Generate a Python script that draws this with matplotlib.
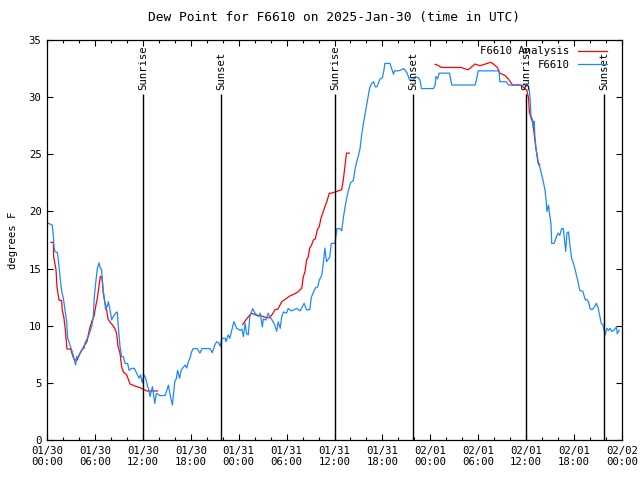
import numpy as np
import matplotlib
matplotlib.use("Agg")
import matplotlib.pyplot as plt
from matplotlib.ticker import MultipleLocator

# hours since 2025-01-30 00:00 UTC, dew point in F
obs_hours = [0.17, 0.66, 0.79, 0.88, 1.0, 1.29, 1.42, 1.63, 1.84, 2.05, 2.25, 2.46, 2.59, 2.75, 2.92,
             3.09, 3.42, 3.59, 3.71, 3.92, 4.13, 4.34, 4.67, 4.76, 5.17, 5.59, 5.8, 5.92, 6.09, 6.3,
             6.51, 6.64, 6.84, 6.97, 7.18, 7.34, 7.59, 7.68, 7.89, 8.1, 8.3, 8.6, 8.8, 8.93, 9.14,
             9.35, 9.55, 9.77, 10.1, 10.27, 10.6, 10.93, 11.23, 11.52, 11.73, 11.93, 12.15, 12.35,
             12.56, 12.81, 12.9, 13.2, 13.5, 13.7, 14.15, 14.8, 15.2, 15.5, 15.7, 16.0, 16.2, 16.36,
             16.6, 16.8, 17.0, 17.3, 17.5, 17.7, 17.9, 18.1, 18.3, 18.8, 19.15, 19.4, 20.0, 20.4,
             20.7, 21.0, 21.25, 21.5, 21.7, 21.9, 22.3, 22.4, 22.7, 22.9, 23.1, 23.4, 23.75, 24.2,
             24.4, 24.6, 24.8, 25.0, 25.2, 25.4, 25.75, 26.05, 26.5, 26.7, 26.96, 27.1, 27.4, 27.7,
             27.9, 28.1, 28.3, 28.5, 28.76, 28.95, 29.2, 29.4, 29.6, 30.0, 30.2, 30.6, 31.3, 31.7,
             32.2, 32.5, 32.9, 33.1, 33.6, 33.9, 34.1, 34.4, 34.6, 34.8, 35.0, 35.2, 35.4, 35.6,
             36.06, 36.3, 36.7, 36.9, 37.1, 37.3, 37.5, 37.7, 38.0, 38.35, 38.6, 38.8, 39.0, 39.2,
             39.4, 39.6, 39.8, 40.03, 40.2, 40.4, 40.65, 40.9, 41.1, 41.3, 41.5, 41.7, 42.0, 42.2,
             42.3, 42.95, 43.2, 43.4, 43.5, 44.0, 44.4, 44.7, 45.1, 45.4, 45.9, 46.1, 46.5, 46.7,
             46.9, 48.4, 48.6, 48.7, 48.9, 49.1, 50.4, 50.55, 50.7, 53.6, 53.8, 54.0, 56.6, 56.7,
             57.5, 57.8, 60.07, 60.3, 60.4, 60.5, 60.6, 60.8, 60.9, 61.0, 61.1, 61.2, 61.3, 61.5,
             61.7, 61.9, 62.1, 62.35, 62.5, 62.6, 62.7, 62.8, 62.9, 63.1, 63.2, 63.5, 63.8, 64.0,
             64.2, 64.45, 64.65, 64.8, 64.95, 65.1, 65.3, 65.5, 65.7, 65.9, 66.1, 66.3, 66.5, 66.7,
             67.1, 67.4, 67.6, 67.8, 68.0, 68.2, 68.4, 68.6, 68.8, 69.0, 69.2, 69.4, 69.6, 69.9,
             70.1, 70.3, 70.5, 70.7, 71.0, 71.3, 71.4, 71.65]
obs_dewpt = [18.96, 18.8, 17.9, 16.9, 16.5, 16.4, 15.75, 14.3, 13.0, 12.4, 11.4, 10.35, 8.9, 8.6, 8.2,
             7.9, 7.0, 6.56, 7.3, 7.2, 7.6, 7.9, 8.05, 8.5, 9.04, 9.9, 10.8, 12.5, 13.7, 15.0,
             15.5, 15.1, 14.9, 13.4, 12.4, 11.4, 11.8, 12.1, 11.4, 10.5, 10.8, 11.1, 11.2, 9.9, 8.2,
             7.3, 7.3, 6.7, 6.7, 6.1, 6.27, 6.27, 5.85, 5.4, 5.7, 5.0, 5.7, 5.4,
             4.8, 4.2, 3.8, 4.67, 3.2, 4.08, 3.88, 3.9, 4.8, 3.67, 3.06, 5.1, 5.4, 6.1,
             5.4, 6.1, 6.3, 6.56, 6.3, 6.85, 7.15, 7.7, 8.0, 8.0, 7.6, 8.0, 8.0, 8.0,
             7.64, 8.3, 8.6, 8.5, 8.2, 8.9, 8.9, 8.6, 9.2, 8.9, 9.5, 10.35, 9.77, 9.6,
             9.7, 9.04, 10.2, 9.3, 9.2, 10.8, 11.5, 11.1, 10.8, 11.1, 9.9, 10.6, 10.5, 11.1,
             10.8, 10.6, 10.35, 10.1, 9.5, 10.35, 9.77, 10.8, 11.2, 11.1, 11.5, 11.3, 11.5, 11.3,
             11.96, 11.4, 11.4, 12.5, 13.3, 13.4, 14.0, 14.4, 15.46, 16.8, 15.6, 15.8, 16.0, 17.2,
             17.2, 18.5, 18.5, 18.3, 19.4, 20.3, 21.1, 21.7, 22.5, 22.7, 23.8, 24.4, 24.9, 25.5,
             26.7, 27.6, 28.4, 29.3, 30.0, 30.8, 31.2, 31.35, 30.9, 30.9, 31.2, 31.6, 31.7, 32.4,
             32.95, 32.95, 32.4, 32.0, 32.3, 32.3, 32.4, 32.5, 32.1, 31.5, 31.5, 31.8, 31.7, 31.5,
             30.75, 30.75, 31.06, 31.8, 31.6, 32.1, 32.1, 31.5, 31.06, 31.06, 31.6, 32.3, 32.3, 31.35,
             31.35, 31.06, 31.06, 31.0, 30.5, 29.75, 28.4, 28.0, 27.3, 27.9, 26.5, 25.8, 25.1, 24.2,
             23.9, 23.3, 22.75, 21.9, 21.0, 20.0, 20.3, 20.56, 19.9, 19.0, 17.2, 17.2, 17.8, 18.1,
             17.9, 18.5, 18.5, 17.5, 16.5, 18.1, 18.2, 16.9, 15.9, 15.5, 15.0, 14.4, 13.85, 13.1,
             13.0, 12.25, 12.3, 12.1, 11.5, 11.4, 11.5, 11.7, 11.96, 11.6, 10.9, 10.2, 10.1, 9.2,
             9.77, 9.6, 9.77, 9.5, 9.6, 9.9, 9.3, 9.6]

# analysis, nan marks the gaps
ana_hours = [0.5, 0.79, 0.84, 1.13, 1.25, 1.5, 1.84, 1.9, 2.1, 2.3, 2.5, 2.96, 3.25, 3.46, 3.8, 3.92,
             4.4, 4.7, 5.0, 5.2, 5.4, 5.67, 5.88, 6.1, 6.3, 6.5, 6.67, 6.84, 6.97, 7.05, 7.26, 7.4,
             7.64, 7.85, 8.2, 8.5, 8.72, 8.89, 9.14, 9.35, 9.56, 9.98, 10.4, 11.1, 11.65, 12.07,
             12.5, 13.85, 19.0,
             24.5, 24.6, 25.0, 25.6, 26.3, 26.9, 27.5, 27.9, 28.3, 28.55, 28.9, 29.4, 29.8, 30.4,
             31.05, 31.5, 31.9, 32.1, 32.3, 32.5, 32.7, 32.9, 33.1, 33.35, 33.6, 33.85, 34.1, 34.3,
             34.6, 34.8, 35.1, 35.35, 35.65, 36.06, 36.9, 37.1, 37.3, 37.5, 37.85, 43.0,
             48.6, 48.9, 49.4, 51.9, 52.2, 52.75, 53.1, 53.6, 54.2, 54.9, 55.55, 55.9, 56.4, 56.7,
             57.35, 57.75, 58.3, 59.2, 59.6, 60.07, 60.3, 60.4, 60.6, 60.8, 61.0, 61.2, 61.4, 61.5,
             61.7]
ana_dewpt = [17.3, 17.3, 16.0, 14.9, 13.4, 12.25, 12.2, 11.4, 10.8, 9.6, 7.96, 7.96, 7.3, 7.0, 7.0, 7.3,
             7.9, 8.3, 8.6, 9.3, 9.9, 10.5, 10.8, 11.7, 12.4, 13.4, 14.3, 14.3, 13.7, 12.8, 12.0, 11.7,
             10.6, 10.35, 10.06, 9.77, 9.3, 8.2, 7.6, 6.4, 5.96, 5.7, 4.9, 4.7, 4.58, 4.43,
             4.29, 4.29, np.nan,
             10.1, 10.2, 10.6, 11.1, 10.9, 10.85, 10.7, 10.7, 11.1, 11.4, 11.45, 12.1, 12.3, 12.6,
             12.8, 13.0, 13.3, 14.3, 14.7, 15.75, 16.0, 16.8, 17.0, 17.5, 17.6, 18.4, 18.7, 19.4,
             20.0, 20.4, 21.0, 21.6, 21.6, 21.7, 21.9, 22.75, 23.9, 25.1, 25.1, np.nan,
             32.87, 32.8, 32.6, 32.6, 32.5, 32.4, 32.6, 32.9, 32.75, 32.9, 33.05, 32.9, 32.6, 32.1,
             31.9, 31.6, 31.06, 31.06, 30.9, 30.6, 29.9, 28.7, 28.2, 27.8, 26.8, 25.6, 24.8, 24.3,
             24.06]

sun_hours = [12.0, 21.8, 36.05, 45.8, 59.95, 69.8]
sun_labels = ["Sunrise", "Sunset", "Sunrise", "Sunset", "Sunrise", "Sunset"]

tick_hours = list(range(0, 73, 6))
tick_labels = ["01/30\n00:00", "01/30\n06:00", "01/30\n12:00", "01/30\n18:00",
               "01/31\n00:00", "01/31\n06:00", "01/31\n12:00", "01/31\n18:00",
               "02/01\n00:00", "02/01\n06:00", "02/01\n12:00", "02/01\n18:00",
               "02/02\n00:00"]

plt.rcParams['font.family'] = ['DejaVu Sans Mono']
plt.rcParams['font.size'] = 7.7

fig = plt.figure(figsize=(6.4, 4.8), dpi=100)
ax = fig.add_axes([47/640, 40/480, 575/640, 400/480])

ax.plot(ana_hours, ana_dewpt, color="red", lw=0.9, label="F6610 Analysis")
ax.plot(obs_hours, obs_dewpt, color="#1e88ff", lw=0.9, label="F6610")

for h, lab in zip(sun_hours, sun_labels):
    ax.vlines(h, 0, 30.3, color="black", lw=1.0)
    ax.text(h, 30.6, lab, rotation=90, ha="center", va="bottom")

ax.set_xlim(0, 72)
ax.set_ylim(0, 35)
ax.set_xticks(tick_hours)
ax.set_xticklabels(tick_labels)
ax.xaxis.set_minor_locator(MultipleLocator(2))
ax.yaxis.set_major_locator(MultipleLocator(5))
ax.tick_params(which="both", direction="in", top=True, right=True, width=0.8)
ax.tick_params(which="major", length=4, pad=4)
ax.tick_params(which="minor", length=2)
for s in ax.spines.values():
    s.set_linewidth(0.9)

ax.set_ylabel("degrees F", labelpad=8)
ax.set_title("Dew Point for F6610 on 2025-Jan-30 (time in UTC)", pad=14)

leg = ax.legend(loc="upper right", frameon=False, markerfirst=False, handlelength=2.7,
                borderaxespad=0.2, labelspacing=0.3, handletextpad=0.8,
                bbox_to_anchor=(0.985, 1.0))
for t in leg.get_texts():
    t.set_ha("right")

fig.savefig("out.png", dpi=100)
